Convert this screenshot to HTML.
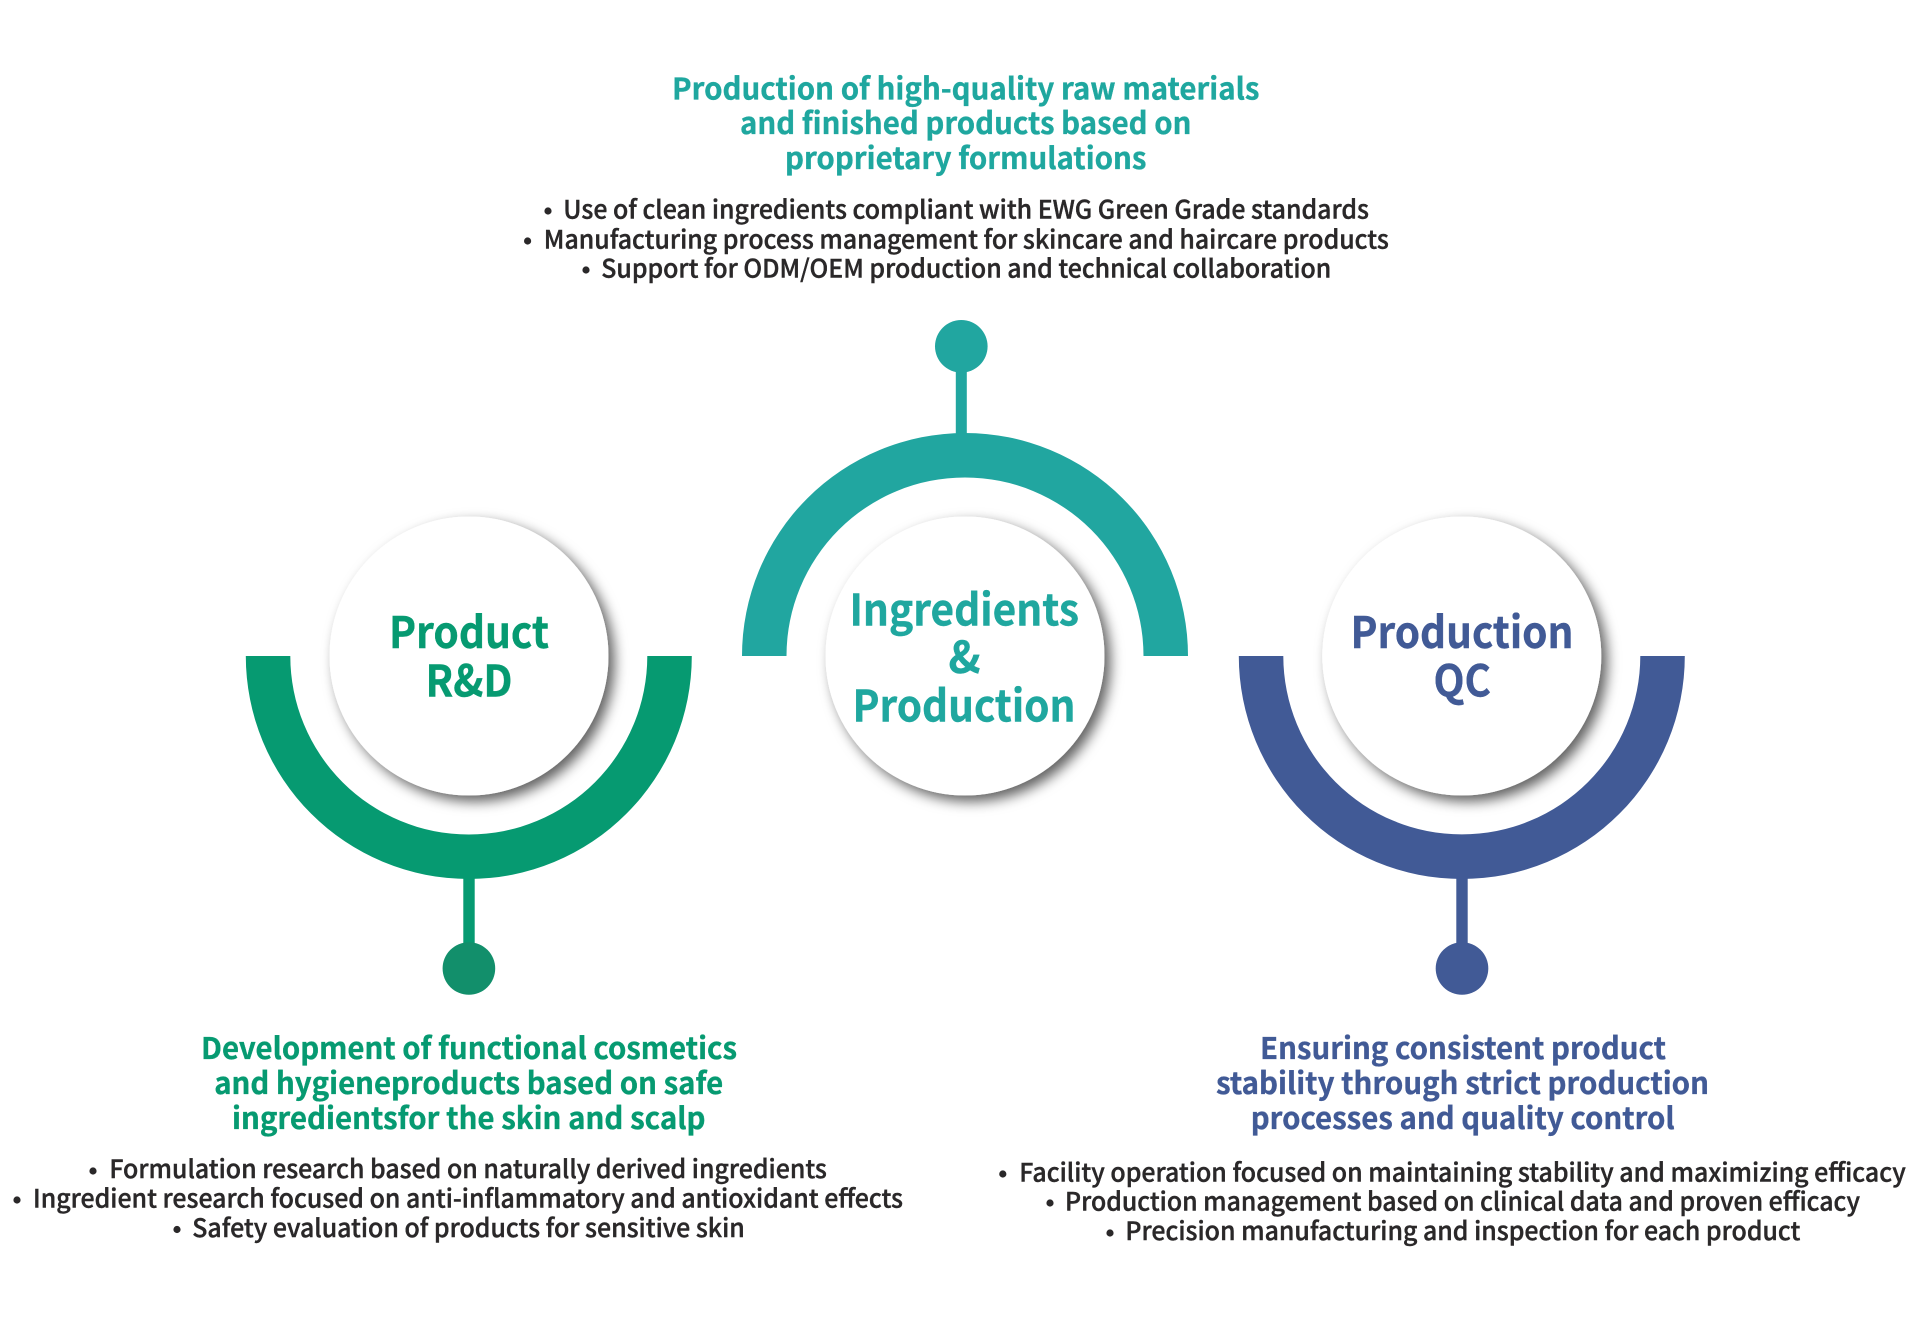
<!DOCTYPE html>
<html><head><meta charset="utf-8"><style>
html,body{margin:0;padding:0;background:#fff}
svg{display:block}
text{font-family:"Noto Sans CJK KR","Liberation Sans",sans-serif}
.h{font-weight:700;font-size:30px;stroke:currentColor;stroke-width:.35px}
.b{font-weight:500;font-size:25px;fill:#2a2829;stroke:#2a2829;stroke-width:.4px}
.c{font-weight:700;font-size:43.5px;stroke-width:.4px}
</style></head><body>
<svg width="1919" height="1339" viewBox="0 0 1919 1339" xmlns="http://www.w3.org/2000/svg">
<defs><filter id="s" x="-20%" y="-20%" width="150%" height="150%"><feDropShadow dx="6" dy="6" stdDeviation="6.500" flood-color="#000" flood-opacity=".62"/></filter></defs>
<rect width="1919" height="1339" fill="#fff"/>

<!-- arcs -->
<path d="M742 656A223 223 0 0 1 1188 656H1143.500A178.500 178.500 0 0 0 786.500 656Z" fill="#21a6a0"/>
<rect x="955.800" y="370" width="11" height="66" fill="#21a6a0"/>
<circle cx="961.300" cy="346.300" r="26.300" fill="#21a6a0"/>

<path d="M245.800 656A223 223 0 0 0 691.800 656H647.300A178.500 178.500 0 0 1 290.300 656Z" fill="#069a71"/>
<rect x="463.300" y="877" width="11.400" height="68" fill="#069a71"/>
<circle cx="468.900" cy="968.500" r="26.300" fill="#128f6b"/>

<path d="M1238.800 656A223 223 0 0 0 1684.800 656H1640.300A178.500 178.500 0 0 1 1283.300 656Z" fill="#415a96"/>
<rect x="1456.300" y="877" width="11.400" height="68" fill="#415a96"/>
<circle cx="1462" cy="968.500" r="26.300" fill="#415a96"/>

<!-- circles -->
<circle cx="469" cy="656" r="139.500" fill="#fff" filter="url(#s)"/>
<circle cx="965" cy="656" r="139.500" fill="#fff" filter="url(#s)"/>
<circle cx="1461.800" cy="656" r="139.500" fill="#fff" filter="url(#s)"/>

<!-- circle labels -->
<g fill="#069a71" stroke="#069a71" color="#069a71">
<text class="c" x="389" y="648" textLength="160" lengthAdjust="spacingAndGlyphs">Product</text>
<text class="c" x="425.500" y="696.500" textLength="87" lengthAdjust="spacingAndGlyphs">R&amp;D</text>
</g>
<g fill="#1fa79f" stroke="#1fa79f">
<text class="c" x="849.500" y="625.500" textLength="229.500" lengthAdjust="spacingAndGlyphs">Ingredients</text>
<text class="c" x="948.500" y="673" textLength="32" lengthAdjust="spacingAndGlyphs">&amp;</text>
<text class="c" x="852.500" y="721.500" textLength="223" lengthAdjust="spacingAndGlyphs">Production</text>
</g>
<g fill="#415a96" stroke="#415a96">
<text class="c" x="1350.500" y="648" textLength="223" lengthAdjust="spacingAndGlyphs">Production</text>
<text class="c" x="1433.500" y="696.500" textLength="57.500" lengthAdjust="spacingAndGlyphs">QC</text>
</g>

<!-- top text -->
<g fill="#1fa79f" color="#1fa79f">
<text class="h" x="672" y="99.700" textLength="587.500" lengthAdjust="spacingAndGlyphs">Production of high-quality raw materials</text>
<text class="h" x="740" y="134" textLength="451.500" lengthAdjust="spacingAndGlyphs">and finished products based on</text>
<text class="h" x="785" y="169" textLength="361.500" lengthAdjust="spacingAndGlyphs">proprietary formulations</text>
</g>
<text class="b" x="563.300" y="218.700" textLength="805.700" lengthAdjust="spacingAndGlyphs">Use of clean ingredients compliant with EWG Green Grade standards</text>
<text class="b" x="543.800" y="248.700" textLength="845" lengthAdjust="spacingAndGlyphs">Manufacturing process management for skincare and haircare products</text>
<text class="b" x="601.300" y="277.700" textLength="730" lengthAdjust="spacingAndGlyphs">Support for ODM/OEM production and technical collaboration</text>
<g fill="#2a2829"><circle cx="548" cy="211" r="3.600"/><circle cx="527.600" cy="241" r="3.600"/><circle cx="586" cy="270" r="3.600"/></g>

<!-- left text -->
<g fill="#069a71" color="#069a71">
<text class="h" x="201" y="1058.800" textLength="536" lengthAdjust="spacingAndGlyphs">Development of functional cosmetics</text>
<text class="h" x="214.200" y="1093.800" textLength="509" lengthAdjust="spacingAndGlyphs">and hygieneproducts based on safe</text>
<text class="h" x="232" y="1128.800" textLength="473.500" lengthAdjust="spacingAndGlyphs">ingredientsfor the skin and scalp</text>
</g>
<text class="b" x="109.400" y="1178" textLength="717.500" lengthAdjust="spacingAndGlyphs">Formulation research based on naturally derived ingredients</text>
<text class="b" x="33" y="1207.500" textLength="870" lengthAdjust="spacingAndGlyphs">Ingredient research focused on anti-inflammatory and antioxidant effects</text>
<text class="b" x="192.300" y="1237" textLength="552.500" lengthAdjust="spacingAndGlyphs">Safety evaluation of products for sensitive skin</text>
<g fill="#2a2829"><circle cx="93" cy="1171" r="3.600"/><circle cx="17" cy="1200" r="3.600"/><circle cx="177" cy="1229.500" r="3.600"/></g>

<!-- right text -->
<g fill="#415a96" color="#415a96">
<text class="h" x="1260" y="1058.800" textLength="406" lengthAdjust="spacingAndGlyphs">Ensuring consistent product</text>
<text class="h" x="1216" y="1093.800" textLength="493" lengthAdjust="spacingAndGlyphs">stability through strict production</text>
<text class="h" x="1250.700" y="1128.800" textLength="424" lengthAdjust="spacingAndGlyphs">processes and quality control</text>
</g>
<text class="b" x="1019.300" y="1181.300" textLength="886.500" lengthAdjust="spacingAndGlyphs">Facility operation focused on maintaining stability and maximizing efficacy</text>
<text class="b" x="1065" y="1210.500" textLength="795" lengthAdjust="spacingAndGlyphs">Production management based on clinical data and proven efficacy</text>
<text class="b" x="1125.400" y="1240" textLength="675" lengthAdjust="spacingAndGlyphs">Precision manufacturing and inspection for each product</text>
<g fill="#2a2829"><circle cx="1002.800" cy="1174" r="3.600"/><circle cx="1050" cy="1203" r="3.600"/><circle cx="1110" cy="1233" r="3.600"/></g>
</svg>
</body></html>
